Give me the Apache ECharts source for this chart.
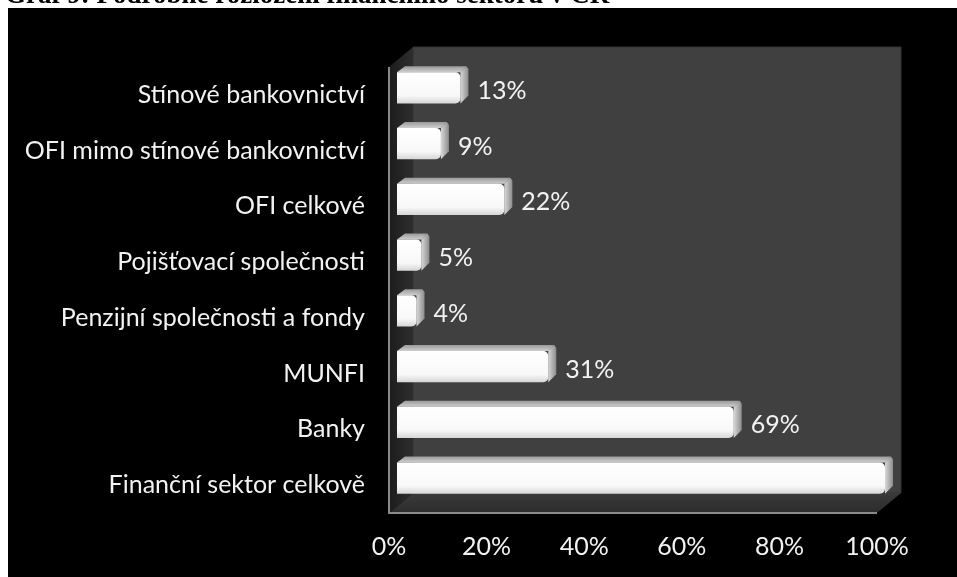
<!DOCTYPE html>
<html>
<head>
<meta charset="utf-8">
<script src="https://cdn.jsdelivr.net/npm/echarts@6/dist/echarts.min.js"></script>
<style>
  html, body { margin: 0; padding: 0; background: #ffffff; }
  #chart { width: 957px; height: 577px; }
</style>
</head>
<body>
<div id="chart"></div>
<script>
// Sectors, top to bottom
const categories = [
  'Stínové bankovnictví',
  'OFI mimo stínové bankovnictví',
  'OFI celkové',
  'Pojišťovací společnosti',
  'Penzijní společnosti a fondy',
  'MUNFI',
  'Banky',
  'Finanční sektor celkově'
];
// Share of the financial sector, in percent
const shares = [13, 9, 22, 5, 4, 31, 69, 100];
// The total bar carries no value label
const showValue = [true, true, true, true, true, true, true, false];
const xTicks = [0, 20, 40, 60, 80, 100];

const TITLE = 'Graf 9: Podrobné rozložení finančního sektoru v ČR';
const W = 957, H = 577;
const GRID = { left: 389, right: 80, top: 67, bottom: 64 };
const WALL_DEPTH = [24, -20];   // perspective shift of the back wall
const BAR_SHIFT = [8, -7];      // bars sit slightly inside the box
const BAR_DEPTH = [8, -6];      // thickness of each 3D bar
const BAR_RATIO = 0.56;
const FONT = 'Lato, "Open Sans", sans-serif';
const FONT_SIZE = 25;

const chart = echarts.init(document.getElementById('chart'));

// Box geometry derived from the grid
const fx0 = GRID.left, fx1 = W - GRID.right, fy0 = GRID.top, fy1 = H - GRID.bottom;
const bx0 = fx0 + WALL_DEPTH[0], bx1 = fx1 + WALL_DEPTH[0];
const by0 = fy0 + WALL_DEPTH[1], by1 = fy1 + WALL_DEPTH[1];

const graphics = [
  {
    type: 'text', z: 0,
    style: {
      text: TITLE, x: 5, y: -4, verticalAlign: 'middle',
      font: 'bold 27px "Liberation Serif", serif', fill: '#000'
    }
  },
  {
    type: 'rect', z: -10, shape: { x: 8, y: 8, width: W - 8, height: H - 8 },
    style: { fill: '#000000' }
  },
  // back wall
  {
    type: 'rect', z: -9, shape: { x: bx0, y: by0, width: bx1 - bx0, height: by1 - by0 },
    style: { fill: '#404040', stroke: '#333333', lineWidth: 1 }
  },
  // left side wall
  {
    type: 'polygon', z: -9,
    shape: { points: [[fx0, fy0], [bx0, by0], [bx0, by1], [fx0, fy1]] },
    style: {
      fill: new echarts.graphic.LinearGradient(0, 0, 1, 0, [
        { offset: 0, color: '#1c1c1c' }, { offset: 1, color: '#2e2e2e' }
      ])
    }
  },
  // floor
  {
    type: 'polygon', z: -9,
    shape: { points: [[fx0, fy1], [bx0, by1], [bx1, by1], [fx1, fy1]] },
    style: {
      fill: new echarts.graphic.LinearGradient(0, 0, 0, 1, [
        { offset: 0, color: '#3a3a3a' }, { offset: 1, color: '#2c2c2c' }
      ])
    }
  },
  // front edges of the box
  {
    type: 'polyline', z: -8,
    shape: { points: [[fx0, fy0], [fx0, fy1], [fx1, fy1]] },
    style: { stroke: '#8a8a8a', lineWidth: 2, fill: null }
  }
];

function renderBar(params, api) {
  const v = api.value(0);
  const ci = api.value(1);
  const p0 = api.coord([0, ci]);
  const p1 = api.coord([v, ci]);
  const band = api.size([0, 1])[1];
  const h = band * BAR_RATIO;
  const x0 = p0[0] + BAR_SHIFT[0];
  const x1 = p1[0] + BAR_SHIFT[0];
  const yc = p0[1] + BAR_SHIFT[1];
  const yt = yc - h / 2, yb = yc + h / 2;
  const dx = BAR_DEPTH[0], dy = BAR_DEPTH[1];
  const children = [
    {
      type: 'polygon',
      shape: { points: [[x0, yt], [x0 + dx, yt + dy], [x1 + dx - 2, yt + dy], [x1, yt]] },
      style: {
        fill: new echarts.graphic.LinearGradient(0, 0, 0, 1, [
          { offset: 0, color: '#9a9a9a' }, { offset: 1, color: '#cfcfcf' }
        ])
      }
    },
    {
      type: 'polygon',
      shape: { points: [[x1, yt], [x1 + dx - 2, yt + dy], [x1 + dx, yt + dy + 3], [x1 + dx, yb + dy - 2], [x1, yb]] },
      style: {
        fill: new echarts.graphic.LinearGradient(0, 0, 1, 0, [
          { offset: 0, color: '#d8d8d8' }, { offset: 1, color: '#8c8c8c' }
        ])
      }
    },
    {
      type: 'rect',
      shape: { x: x0, y: yt, width: Math.max(x1 - x0, 1), height: h, r: [0, 5, 5, 0] },
      style: {
        fill: new echarts.graphic.LinearGradient(0, 0, 0, 1, [
          { offset: 0, color: '#ffffff' },
          { offset: 0.75, color: '#f8f8f8' },
          { offset: 1, color: '#d6d6d6' }
        ])
      }
    }
  ];
  if (showValue[params.dataIndex]) {
    children.push({
      type: 'text',
      style: {
        text: v + '%', x: x1 + 17, y: yc + 3,
        align: 'left', verticalAlign: 'middle',
        font: FONT_SIZE + 'px ' + FONT, fill: '#f2f2f2'
      }
    });
  }
  return { type: 'group', children: children };
}

chart.setOption({
  backgroundColor: 'transparent',
  animation: false,
  graphic: graphics,
  grid: { left: GRID.left, right: GRID.right, top: GRID.top, bottom: GRID.bottom },
  xAxis: {
    type: 'value', min: xTicks[0], max: xTicks[xTicks.length - 1], interval: 20,
    axisLine: { show: false }, axisTick: { show: false }, splitLine: { show: false },
    axisLabel: {
      color: '#f2f2f2', fontFamily: FONT, fontSize: FONT_SIZE, margin: 21,
      formatter: v => v + '%'
    }
  },
  yAxis: {
    type: 'category', data: categories, inverse: true,
    axisLine: { show: false }, axisTick: { show: false }, splitLine: { show: false },
    axisLabel: { color: '#f2f2f2', fontFamily: FONT, fontSize: FONT_SIZE, margin: 24 }
  },
  series: [{
    type: 'custom',
    renderItem: renderBar,
    encode: { x: 0, y: 1 },
    data: shares.map((v, i) => [v, i])
  }]
});
</script>
</body>
</html>
